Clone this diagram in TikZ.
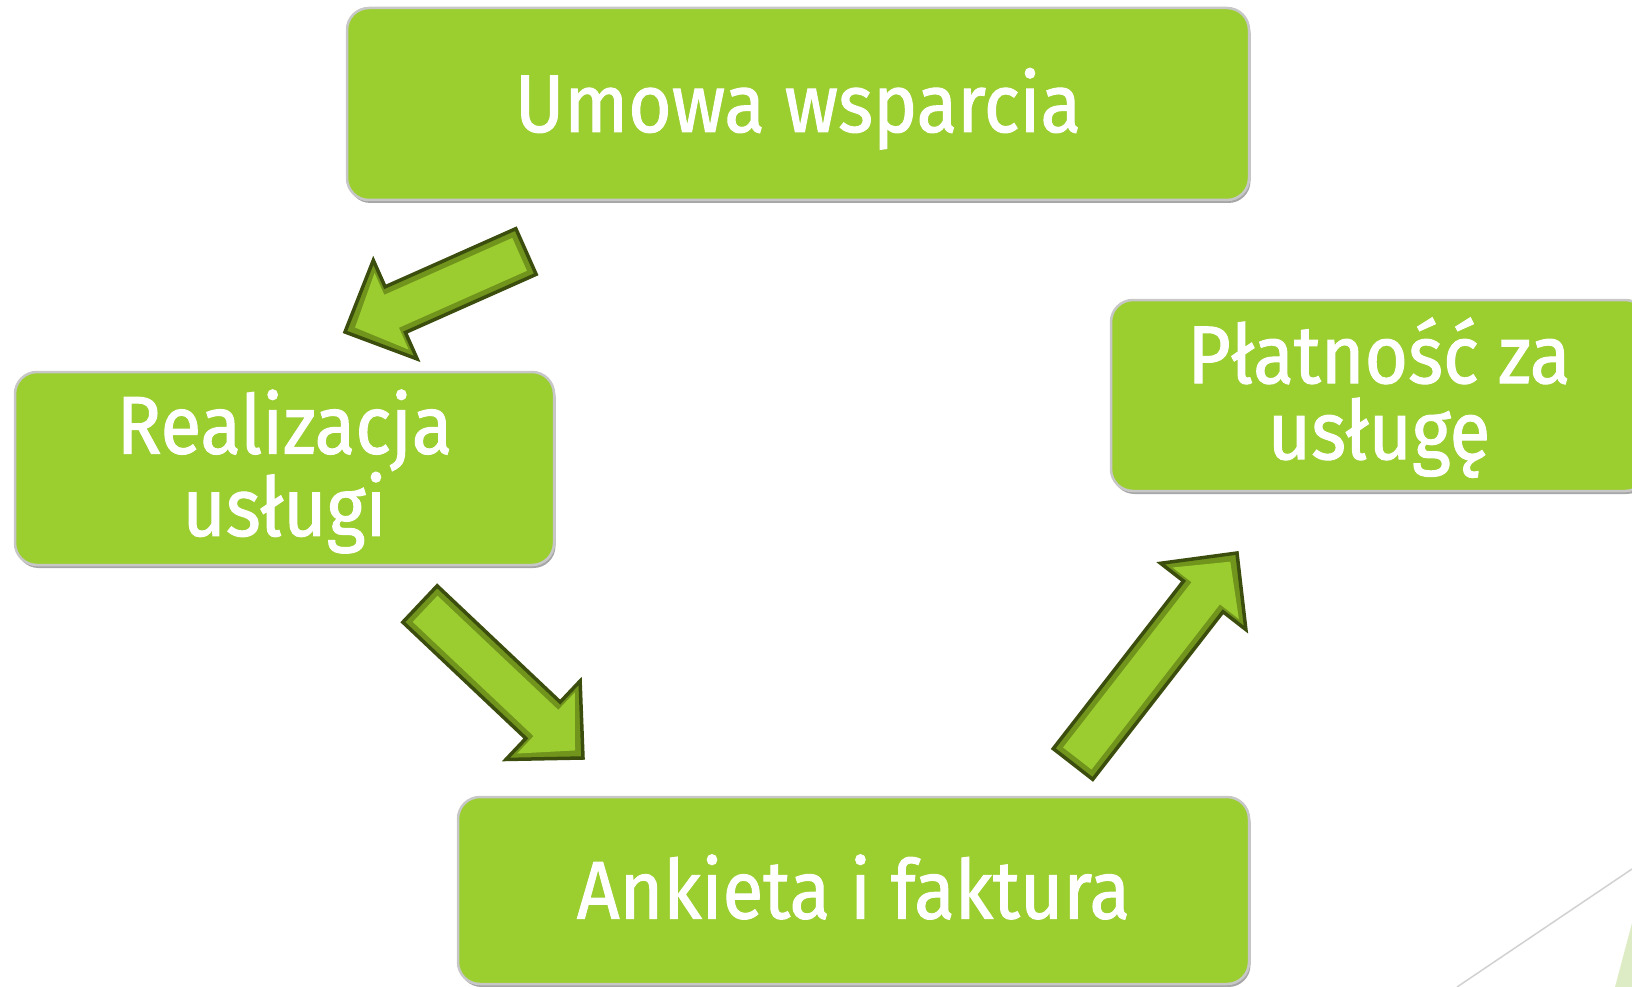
\documentclass[tikz,border=0pt]{standalone}
\usepackage{fontspec}
\setmainfont{Fira Sans}[FakeStretch=0.91, FakeBold=1.2]
\usetikzlibrary{calc,shadows}
\definecolor{boxgreen}{RGB}{155,206,47}
\definecolor{arrowgreen}{RGB}{155,205,48}
\definecolor{arrowrim}{RGB}{112,148,28}
\definecolor{arrowdark}{RGB}{60,78,14}
\definecolor{decogreen}{RGB}{221,236,196}
\tikzset{
  stepbox/.style={rectangle, rounded corners=22pt, fill=boxgreen, draw=black!22,
    line width=2.5pt,
    drop shadow={shadow xshift=1.5pt, shadow yshift=-3pt, opacity=0.35, fill=black},
    text=white, align=center, inner sep=0pt,
    font=\fontsize{82}{76}\selectfont},
  oneline/.style={text height=56pt, text depth=0pt},
  arrowouter/.style={fill=arrowrim, draw=arrowdark, line width=3.5pt, line join=miter},
  arrowface/.style={fill=arrowgreen},
}
% #1 tail, #2 tip, #3 shaft half, #4 head half, #5 head length, #6 tail inset, #7 tip inset, #8 style
\newcommand\blkpoly[8]{%
  \coordinate (#1t) at ($(#1)!#6!(#2)$);
  \coordinate (#1p) at ($(#2)!#7!(#1)$);
  \coordinate (#1hb) at ($(#2)!#5!(#1)$);
  \path[#8]
    ($(#1t)!#3!90:(#2)$) -- ($(#1hb)!#3!90:(#2)$) -- ($(#1hb)!#4!90:(#2)$)
    -- (#1p) -- ($(#1hb)!#4!-90:(#2)$) -- ($(#1hb)!#3!-90:(#2)$)
    -- ($(#1t)!#3!-90:(#2)$) -- cycle;
}
\newcommand\blkarrow[2]{%
  \blkpoly{#1}{#2}{25pt}{54pt}{55pt}{0pt}{0pt}{arrowouter}
  \blkpoly{#1}{#2}{18pt}{42pt}{51pt}{7pt}{11pt}{arrowface}
}
\begin{document}
\begin{tikzpicture}[x=1pt,y=-1pt]
\useasboundingbox (0,0) rectangle (1632,987);
% decoration bottom right
\coordinate (d1) at (1457,987);
\coordinate (d2) at (1632,869);
\draw[black!18, line width=1.5pt] (d1) -- (d2);
\coordinate (g1) at (1615,987);
\coordinate (g2) at (1632,923);
\coordinate (g3) at (1632,987);
\fill[decogreen] (g1) -- (g2) -- (g3) -- cycle;
% boxes
\node[stepbox, oneline, minimum width=902pt, minimum height=192pt] (umowa) at (798,104) {Umowa wsparcia};
\node[stepbox, minimum width=539pt, minimum height=193pt] (real) at (284.5,468.5) {\rule{0pt}{70pt}Realizacja\\usługi};
\node[stepbox, minimum width=536pt, minimum height=191pt] (plat) at (1379,395.5) {\rule{0pt}{70pt}Płatność za\\usługę};
\node[stepbox, oneline, minimum width=791pt, minimum height=187pt] (ank) at (853.5,890.5) {Ankieta i faktura};
% arrows
\coordinate (a1t) at (526,251.5);
\coordinate (a1h) at (345,332);
\coordinate (a2t) at (420,604);
\coordinate (a2h) at (583,758);
\coordinate (a3t) at (1073,764);
\coordinate (a3h) at (1237,553);
\blkarrow{a1t}{a1h}
\blkarrow{a2t}{a2h}
\blkarrow{a3t}{a3h}
\end{tikzpicture}
\end{document}
